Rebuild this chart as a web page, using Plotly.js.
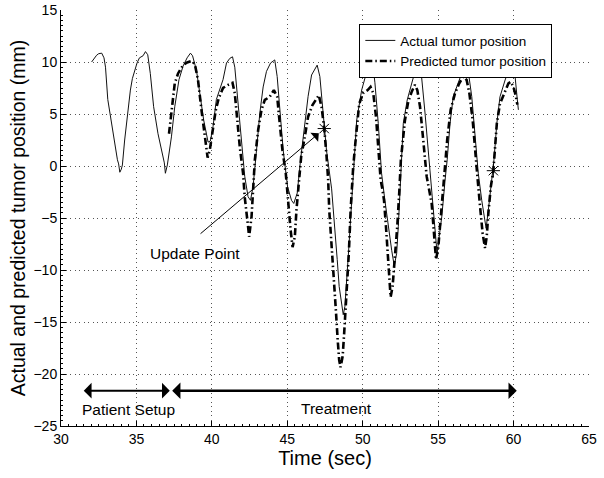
<!DOCTYPE html>
<html>
<head>
<meta charset="utf-8">
<script src="https://cdn.plot.ly/plotly-3.0.1.min.js"></script>
<style>html,body{margin:0;padding:0;background:#fff;}#chart{width:604px;height:478px;}</style>
</head>
<body>
<div id="chart"></div>
<script>
// Actual tumor position (time in s, position in mm)
var actualX = [32.03,32.2,32.36,32.5,32.7,32.85,32.95,33.1,33.34,33.56,33.74,33.82,33.9,34.0,34.07,34.22,34.44,34.6,34.73,35.04,35.2,35.44,35.6,35.75,35.92,36.14,36.43,36.72,36.85,36.92,37.05,37.32,37.54,37.82,38.09,38.36,38.58,38.72,38.98,39.2,39.46,39.75,39.9,40.08,40.3,40.74,40.97,41.19,41.37,41.52,41.74,41.96,42.18,42.4,42.56,42.73,42.96,43.18,43.4,43.62,43.89,44.17,44.33,44.5,44.73,45.02,45.28,45.43,45.66,45.88,46.16,46.38,46.61,46.83,46.98,47.16,47.38,47.6,47.94,48.16,48.31,48.44,48.6,48.71,48.82,48.97,49.1,49.26,49.42,49.6,49.93,50.26,50.48,50.66,50.81,51.03,51.25,51.47,51.69,51.92,52.09,52.25,52.36,52.47,52.58,52.69,52.95,53.25,53.46,53.73,53.9,54.13,54.34,54.57,54.79,54.93,55.05,55.24,55.46,55.6,55.79,56.0,56.23,56.56,56.83,57.0,57.23,57.44,57.66,57.89,58.18,58.33,58.49,58.62,58.7,58.89,59.1,59.44,59.72,59.95,60.1,60.25,60.32];
var actualY = [10.0,10.4,10.65,10.8,10.85,10.4,9.5,6.4,4.1,2.2,0.6,0.2,-0.6,-0.3,0.1,2.5,5.7,7.3,8.4,9.9,10.4,10.6,11.0,10.7,8.9,5.7,3.1,1.0,0.3,-0.7,0.1,2.8,5.7,8.3,9.6,10.4,10.85,10.6,9.2,7.0,4.4,2.3,2.4,3.8,6.4,8.3,9.9,10.35,10.5,9.5,6.35,2.5,-1.0,-2.95,-3.3,-2.0,1.5,5.1,7.6,9.1,9.9,10.2,8.6,5.4,1.5,-2.0,-3.3,-3.6,-2.6,0.6,4.1,6.7,8.75,9.4,9.7,8.6,4.7,1.5,-2.2,-5.8,-9.0,-11.6,-13.2,-14.3,-13.5,-10.6,-7.4,-3.6,0.0,4.4,7.3,8.9,10.2,9.9,8.0,4.1,-0.7,-3.3,-5.8,-8.1,-9.6,-8.4,-5.8,-2.6,0.6,4.1,6.35,7.95,9.07,9.5,8.6,5.1,1.5,-2.6,-5.8,-8.4,-7.0,-4.9,-1.35,0.6,4.1,6.66,7.6,8.9,9.6,9.07,6.66,3.14,-0.7,-3.3,-6.0,-4.2,-2.3,-0.55,0.6,4.1,6.66,8.27,9.4,10.0,8.6,6.35,5.4];

// Predicted tumor position
var predX = [37.16,37.32,37.54,37.76,38.09,38.36,38.65,38.87,39.08,39.31,39.53,39.72,39.86,40.05,40.25,40.45,40.74,41.08,41.37,41.52,41.67,41.85,42.07,42.18,42.4,42.47,42.63,42.73,42.85,43.07,43.29,43.51,43.84,44.11,44.33,44.5,44.68,44.9,45.06,45.22,45.35,45.5,45.61,45.79,45.92,46.16,46.38,46.67,46.94,47.09,47.27,47.45,47.6,47.71,47.78,47.94,48.09,48.22,48.34,48.44,48.53,48.67,48.77,48.93,49.08,49.2,49.3,49.37,49.55,49.77,50.03,50.33,50.52,50.7,50.88,51.03,51.19,51.3,51.41,51.54,51.69,51.8,51.85,51.98,52.14,52.29,52.42,52.53,52.8,53.02,53.25,53.46,53.62,53.8,53.97,54.13,54.24,54.57,54.72,54.86,55.01,55.12,55.3,55.45,55.6,55.83,56.12,56.4,56.67,56.89,57.07,57.29,57.44,57.6,57.78,57.95,58.11,58.22,58.33,58.49,58.66,58.74,58.89,59.1,59.44,59.66,59.82,59.99,60.14,60.25];
var predY = [3.1,5.1,7.95,8.9,9.7,9.95,10.1,9.8,8.3,5.4,2.8,0.8,1.5,3.3,5.3,6.5,7.5,7.8,8.0,7.0,4.74,1.85,-0.7,-3.0,-5.8,-6.8,-4.9,-2.0,0.6,3.46,5.4,6.35,6.66,7.3,6.66,4.1,1.5,-0.7,-3.6,-6.15,-7.8,-6.8,-4.2,-1.0,0.9,2.8,4.74,5.86,6.5,6.8,5.7,3.6,1.0,-1.35,-4.2,-7.4,-10.6,-13.85,-16.7,-18.65,-19.35,-18.3,-16.1,-12.2,-8.4,-4.2,-1.0,-0.07,2.8,6.0,7.0,7.3,7.6,7.0,4.74,1.5,-1.35,-2.2,-3.27,-5.8,-9.0,-11.6,-12.6,-11.6,-9.0,-5.8,-2.6,0.6,4.4,6.2,7.15,7.8,7.3,5.7,3.14,0.58,-1.0,-3.6,-6.8,-9.0,-7.8,-5.8,-3.27,-0.7,2.5,5.4,7.0,7.95,8.6,8.27,7.0,4.4,1.5,-1.0,-3.9,-6.5,-7.9,-6.8,-4.5,-2.0,-0.45,1.2,4.1,6.0,7.3,7.95,8.1,7.6,6.8,5.9];

// Update points (marked with asterisks)
var updateX = [47.45, 58.66];
var updateY = [3.6, -0.45];

// Phase arrows: [start, end] in seconds, at the arrow level in mm
var setupSpan = [31.41, 37.21];
var treatSpan = [37.27, 60.21];
var phaseLevel = -21.6;
var setupLabel = 'Patient Setup';
var treatLabel = 'Treatment';
var updateLabel = 'Update Point';
var updateArrowTail = [39.15, -6.63];

var fontFam = 'Liberation Sans, Arial, Helvetica, sans-serif';

var traces = [
  {x: actualX, y: actualY, mode: 'lines', name: 'Actual tumor position',
   line: {color: '#111', width: 1}},
  {x: predX, y: predY, mode: 'lines', name: 'Predicted tumor position',
   line: {color: '#000', width: 2.6, dash: '7px,3px,1.5px,3px'}},
  {x: updateX, y: updateY, mode: 'markers', showlegend: false,
   marker: {symbol: 'asterisk-open', size: 11, color: '#000', line: {color: '#000', width: 1}}}
];

var annotations = [
  {x: setupSpan[1], y: phaseLevel, ax: setupSpan[0], ay: phaseLevel, axref: 'x', ayref: 'y', xref: 'x', yref: 'y',
   text: '', showarrow: true, arrowside: 'end+start', arrowhead: 1, arrowsize: 1.3, arrowwidth: 2, arrowcolor: '#000'},
  {x: treatSpan[1], y: phaseLevel, ax: treatSpan[0], ay: phaseLevel, axref: 'x', ayref: 'y', xref: 'x', yref: 'y',
   text: '', showarrow: true, arrowside: 'end+start', arrowhead: 1, arrowsize: 1.1, arrowwidth: 2.5, arrowcolor: '#000'},
  {x: updateX[0] - 0.36, y: updateY[0] - 0.46, ax: updateArrowTail[0], ay: updateArrowTail[1], axref: 'x', ayref: 'y', xref: 'x', yref: 'y',
   text: '', showarrow: true, arrowhead: 1, arrowsize: 2, arrowwidth: 1, arrowcolor: '#000'},
  {x: 38.87, y: -8.37, xref: 'x', yref: 'y', text: updateLabel, showarrow: false,
   font: {family: fontFam, size: 15.5, color: '#000'}},
  {x: 34.45, y: -23.45, xref: 'x', yref: 'y', text: setupLabel, showarrow: false,
   font: {family: fontFam, size: 15.5, color: '#000'}},
  {x: 48.27, y: -23.3, xref: 'x', yref: 'y', text: treatLabel, showarrow: false,
   font: {family: fontFam, size: 15.5, color: '#000'}}
];

var axisCommon = {
  showline: true, linecolor: '#000', linewidth: 1, mirror: false,
  ticks: 'inside', ticklen: 5, tickcolor: '#000', tickwidth: 1,
  showgrid: true, gridcolor: '#555', gridwidth: 1, griddash: '1px,3.5px',
  zeroline: false, tickfont: {family: fontFam, size: 14, color: '#000'},
  minor: {ticks: 'inside', ticklen: 2, tickcolor: '#000', showgrid: false}
};

var layout = {
  width: 604, height: 478,
  margin: {l: 61, r: 15, t: 10, b: 52},
  paper_bgcolor: '#fff', plot_bgcolor: '#fff',
  font: {family: fontFam, color: '#000'},
  showlegend: true,
  legend: {x: 0.565, y: 0.966, xanchor: 'left', yanchor: 'top', bgcolor: '#fff',
           bordercolor: '#000', borderwidth: 1, font: {family: fontFam, size: 13.5, color: '#000'},
           tracegroupgap: 0, itemwidth: 30},
  xaxis: Object.assign({}, axisCommon, {
    range: [30, 65], dtick: 5, tick0: 30,
    minor: Object.assign({}, axisCommon.minor, {dtick: 0.5}),
    title: {text: 'Time (sec)', font: {family: fontFam, size: 20, color: '#000'}, standoff: 4}
  }),
  yaxis: Object.assign({}, axisCommon, {
    range: [-25, 15], dtick: 5, tick0: 0,
    minor: Object.assign({}, axisCommon.minor, {dtick: 0.5}),
    title: {text: 'Actual and predicted tumor position (mm)', font: {family: fontFam, size: 19.5, color: '#000'}, standoff: 2}
  }),
  annotations: annotations
};

Plotly.newPlot('chart', traces, layout, {displayModeBar: false, staticPlot: true});
</script>
</body>
</html>
